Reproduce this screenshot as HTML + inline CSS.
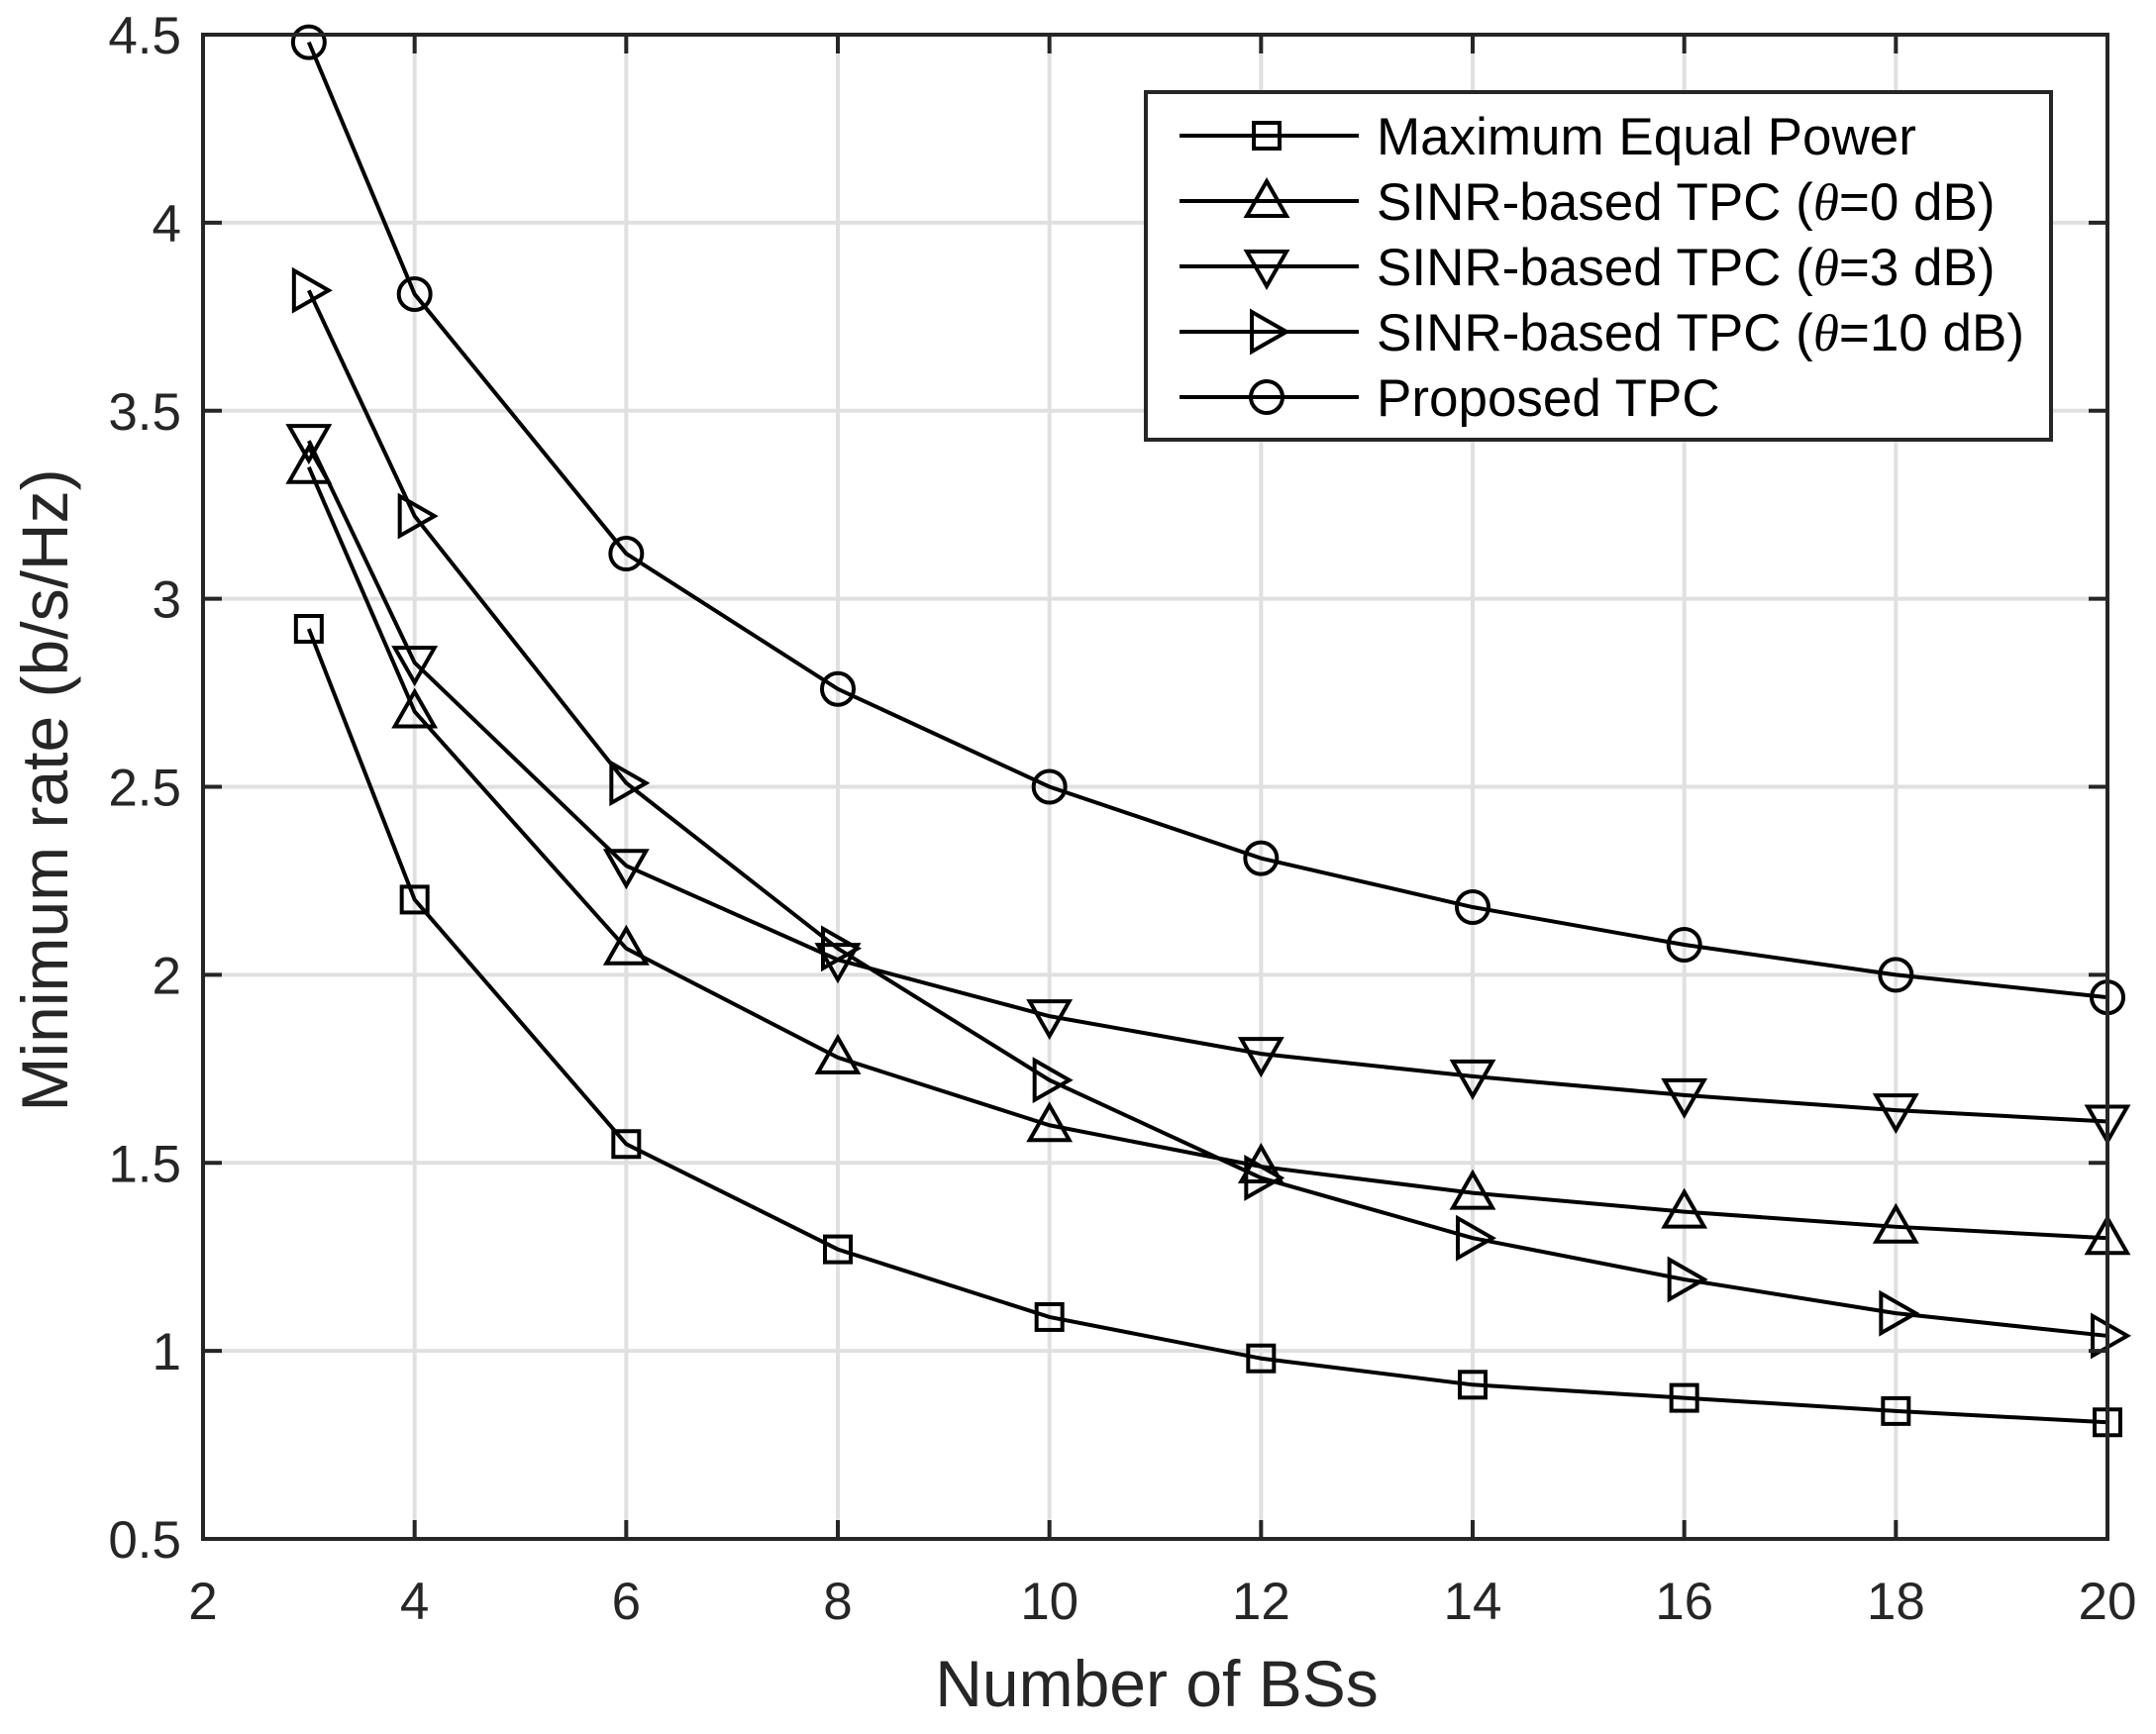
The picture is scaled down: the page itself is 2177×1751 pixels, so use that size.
<!DOCTYPE html>
<html><head><meta charset="utf-8"><style>html,body{margin:0;padding:0;background:#fff}svg{display:block}</style></head>
<body>
<svg xmlns="http://www.w3.org/2000/svg" width="2177" height="1751" viewBox="0 0 2177 1751" font-family="'Liberation Sans', Arial, sans-serif">
<defs>
<g id="sq"><rect x="-13" y="-13" width="26" height="26" fill="none" stroke="#000" stroke-width="4"/></g>
<g id="tu"><polygon points="0,-20 20,15 -20,15" fill="none" stroke="#000" stroke-width="4"/></g>
<g id="td"><polygon points="0,20 20,-15 -20,-15" fill="none" stroke="#000" stroke-width="4"/></g>
<g id="tr"><polygon points="20,0 -15,20 -15,-20" fill="none" stroke="#000" stroke-width="4"/></g>
<g id="ci"><circle r="16" fill="none" stroke="#000" stroke-width="4"/></g>
</defs>
<rect width="2177" height="1751" fill="#fff"/>
<g id="grid" stroke="#e0e0e0" stroke-width="4"></g>
<g id="plot"></g>
<rect x="205" y="35" width="1923" height="1519" fill="none" stroke="#262626" stroke-width="4"/>
<g id="ticks" stroke="#262626" stroke-width="4"></g>
<g id="labels" fill="#262626" font-size="53"></g>
<text x="1168" y="1723" font-size="66" text-anchor="middle" fill="#262626">Number of BSs</text>
<text transform="translate(68,798) rotate(-90)" font-size="66" text-anchor="middle" fill="#262626">Minimum rate (b/s/Hz)</text>
<g id="legend">
<rect x="1157" y="93" width="914" height="351" fill="#fff" stroke="#262626" stroke-width="4"/>
</g>
<script>
var NS="http://www.w3.org/2000/svg";
function X(v){return 205+(v-2)*1923/18}
function Y(v){return 35+(4.5-v)*1519/4}
function el(t,a,p){var e=document.createElementNS(NS,t);for(var k in a)e.setAttribute(k,a[k]);document.getElementById(p).appendChild(e);return e}
for(var x=4;x<=18;x+=2){el('line',{x1:X(x),y1:35,x2:X(x),y2:1554},'grid')}
for(var y=1;y<=4;y+=0.5){el('line',{x1:205,y1:Y(y),x2:2128,y2:Y(y)},'grid')}
for(var x=2;x<=20;x+=2){el('line',{x1:X(x),y1:1554,x2:X(x),y2:1535},'ticks');el('line',{x1:X(x),y1:35,x2:X(x),y2:54},'ticks');
 var t=el('text',{x:X(x),y:1635,'text-anchor':'middle'},'labels');t.textContent=x}
for(var y=0.5;y<=4.5;y+=0.5){el('line',{x1:205,y1:Y(y),x2:224,y2:Y(y)},'ticks');el('line',{x1:2128,y1:Y(y),x2:2109,y2:Y(y)},'ticks');
 var t=el('text',{x:183,y:Y(y)+19,'text-anchor':'end'},'labels');t.textContent=String(y)}
var xs=[3,4,6,8,10,12,14,16,18,20];
var S=[
['sq',[2.92,2.2,1.55,1.27,1.09,0.98,0.91,0.875,0.84,0.81]],
['tu',[3.35,2.7,2.07,1.78,1.6,1.49,1.42,1.37,1.33,1.3]],
['td',[3.42,2.83,2.29,2.04,1.89,1.79,1.73,1.68,1.64,1.61]],
['tr',[3.82,3.22,2.51,2.07,1.72,1.46,1.3,1.19,1.1,1.04]],
['ci',[4.48,3.81,3.12,2.76,2.5,2.31,2.18,2.08,2.0,1.94]]];
S.forEach(function(s){var pts=xs.map(function(x,i){return X(x)+','+Y(s[1][i])}).join(' ');
 el('polyline',{points:pts,fill:'none',stroke:'#000','stroke-width':4},'plot');
 xs.forEach(function(x,i){el('use',{href:'#'+s[0],transform:'translate('+X(x)+','+Y(s[1][i])+')'},'plot')})});
var L=['Maximum Equal Power','SINR-based TPC (θ=0 dB)','SINR-based TPC (θ=3 dB)','SINR-based TPC (θ=10 dB)','Proposed TPC'];
L.forEach(function(l,i){var y=137+i*66;
 el('line',{x1:1191,y1:y,x2:1372,y2:y,stroke:'#000','stroke-width':4},'legend');
 el('use',{href:'#'+S[i][0],transform:'translate(1279,'+y+')'},'legend');
 var t=el('text',{x:1390,y:y+19,'font-size':53,fill:'#000'},'legend');
 var m=l.match(/^(.*\()θ(.*)$/);
 if(m){t.appendChild(document.createTextNode(m[1]));var ts=document.createElementNS(NS,'tspan');ts.setAttribute('font-style','italic');ts.setAttribute('font-family',"'Liberation Serif', serif");ts.textContent='θ';t.appendChild(ts);t.appendChild(document.createTextNode(m[2]))}
 else t.textContent=l;});
</script>
</svg>
</body></html>
